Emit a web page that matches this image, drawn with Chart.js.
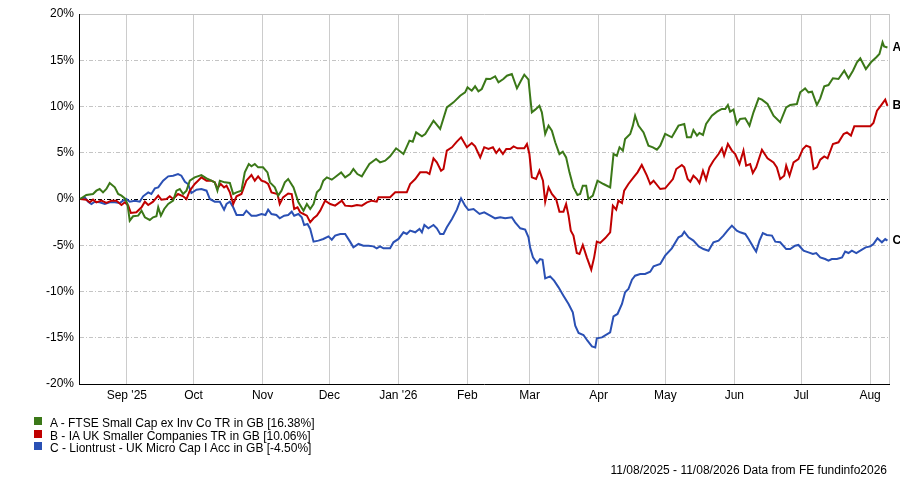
<!DOCTYPE html>
<html>
<head>
<meta charset="utf-8">
<script src="https://cdn.jsdelivr.net/npm/chart.js@4.4.1/dist/chart.umd.min.js"></script>
<style>
html,body{margin:0;padding:0;background:#fff;}
#wrap{position:relative;width:900px;height:484px;font-family:'Liberation Sans',Arial,sans-serif;font-size:12px;color:#000;overflow:hidden;}
#c{position:absolute;left:0;top:0;}
.sq{position:absolute;left:34px;width:8px;height:8px;}
.lt{position:absolute;left:50px;height:14px;line-height:14px;white-space:nowrap;}
#foot{position:absolute;right:13px;top:463px;height:14px;line-height:14px;white-space:nowrap;}
</style>
</head>
<body>
<div id="wrap">
<canvas id="c" width="900" height="484"></canvas>
<div class="sq" style="top:417px;background:#3b7818"></div>
<div class="lt" id="l0" style="top:416px"></div>
<div class="sq" style="top:429.5px;background:#c00000"></div>
<div class="lt" id="l1" style="top:428.5px"></div>
<div class="sq" style="top:442px;background:#2a50b4"></div>
<div class="lt" id="l2" style="top:441px"></div>
<div id="foot">11/08/2025 - 11/08/2026 Data from FE fundinfo2026</div>
</div>
<script>
// x values are days since 11/08/2025, y values are % total return
const seriesNames = [
  "A - FTSE Small Cap ex Inv Co TR in GB [16.38%]",
  "B - IA UK Smaller Companies TR in GB [10.06%]",
  "C - Liontrust - UK Micro Cap I Acc in GB [-4.50%]"
];
const seriesLetters = ["A", "B", "C"];
const seriesColors = ["#3b7818", "#c00000", "#2a50b4"];

const monthDays = [21, 51, 82, 112, 143, 174, 202, 233, 263, 294, 324, 355];
const monthLabels = ["Sep '25", "Oct", "Nov", "Dec", "Jan '26", "Feb", "Mar", "Apr", "May", "Jun", "Jul", "Aug"];
const yTickValues = [-20, -15, -10, -5, 0, 5, 10, 15, 20];
const yTickLabels = ["-20%", "-15%", "-10%", "-5%", "0%", "5%", "10%", "15%", "20%"];

const seriesA = [[0,0],[2.8,0.43],[5.8,0.54],[7.3,0.9],[8.8,1.08],[10.3,0.72],[11.8,1.08],[13.3,1.73],[15.6,1.26],[17.1,0.54],[18.6,0.36],[20.1,0.07],[21.3,-0.54],[22.3,-2.34],[23.8,-1.87],[26.1,-1.8],[27.6,-1.26],[29.1,-1.98],[31.3,-2.27],[32.8,-1.98],[34.3,-1.87],[35.1,-0.9],[36.3,-1.8],[37.8,-1.08],[39.6,-0.54],[41.8,-0.18],[43.3,0.9],[44.8,1.08],[46.3,0.54],[47.8,0.9],[49.3,1.98],[51.5,2.34],[54.5,2.59],[56.8,2.23],[59,1.98],[60.5,1.8],[61.7,0.9],[62.8,1.98],[65,1.8],[67.3,1.73],[68.8,0.54],[70.3,0.72],[72.5,0.9],[74,2.88],[75.8,3.78],[77,3.53],[78.5,3.78],[80,3.42],[82.2,3.42],[84.2,2.88],[85.3,1.8],[87.5,1.26],[89,0.36],[90.5,0.9],[92,1.8],[93.5,2.16],[95.9,1.26],[98.1,-0.36],[100.4,-1.26],[101.9,-0.54],[103.4,-1.08],[104.9,-0.54],[106.4,0.72],[107.9,1.08],[109.3,1.98],[110.9,2.34],[113.1,2.09],[115.4,2.52],[117.3,2.88],[119.1,2.34],[121.3,2.7],[122.8,3.24],[124.6,2.7],[126.6,2.45],[128.1,3.06],[130,3.78],[133,4.32],[134.8,3.96],[137.1,4.14],[139.3,4.61],[142,5.48],[145.3,4.86],[148,6.31],[149.5,6.2],[151,7.2],[153.6,6.77],[155.1,7.03],[158.8,8.47],[161.8,7.57],[164.8,9.91],[167.8,10.45],[170.8,11.17],[173,11.53],[174.1,12.07],[176,11.71],[177.5,12.18],[179,11.64],[180.5,11.89],[182.5,13.0],[184.3,12.97],[186.5,13.26],[188,12.61],[190.2,12.97],[191.8,13.33],[194,13.51],[196.3,11.96],[198.1,12.79],[199.6,13.44],[201.5,12.9],[202.2,11.17],[203,9.37],[204.5,9.66],[206.4,10.09],[207.5,9.37],[209,7.03],[210.5,7.93],[212,7.39],[213.5,6.13],[215.4,4.86],[216.9,5.12],[218.4,4.5],[219.9,2.88],[221.7,1.26],[223.5,0.43],[224.7,0.54],[225.9,1.44],[227.4,1.44],[228.4,0],[230.4,0.36],[232.5,1.98],[235.2,1.62],[238.2,1.26],[239.7,4.86],[241.2,4.68],[242.4,5.59],[243.9,5.23],[244.9,6.49],[247.2,7.03],[248.4,7.93],[249.4,9.01],[250.9,7.93],[253.2,7.2],[255.4,5.77],[257.4,5.59],[259.2,5.33],[260.7,5.77],[262.9,7.03],[265.9,6.67],[268.9,7.93],[271.5,8.11],[272.7,6.67],[274.5,6.67],[275.6,7.46],[277.2,6.85],[278.3,7.14],[279.9,6.92],[281.3,8.11],[283.9,9.01],[286.2,9.44],[288.4,9.73],[289.9,9.73],[291.1,10.16],[292.1,9.44],[293.6,9.66],[295.1,8.11],[296.6,8.65],[298.9,8.72],[300.8,7.93],[302.6,9.37],[304.9,10.88],[306.4,10.74],[308.9,10.27],[311.6,9.01],[314.6,8.29],[317.3,9.91],[319.1,10.16],[322.1,10.27],[323.6,11.53],[325.8,11.96],[327.3,11.53],[328.9,11.6],[331.1,10.16],[332.6,10.88],[334.4,12.18],[336.3,12.32],[338.3,13.05],[340.8,12.97],[343.4,13.87],[345.3,13.05],[347.3,13.87],[349.1,14.78],[350.6,15.21],[353.1,14.05],[355.4,14.78],[357.8,15.32],[359.2,15.68],[360.6,16.94],[361.3,16.5],[362.8,16.38]];

const seriesB = [[0,0],[2.8,-0.07],[4.3,-0.36],[5.8,-0.07],[7.3,-0.36],[9.6,-0.18],[11.8,-0.43],[14.1,-0.18],[16.3,-0.18],[18.6,-0.65],[20.1,-0.36],[21.6,-0.72],[22.8,-1.51],[25.3,-1.44],[27.6,-0.9],[29.1,-0.29],[30.6,-0.65],[32.8,-0.29],[35.1,0.36],[36.5,-0.07],[38.8,0],[40.3,0.29],[41.8,0],[44,0.54],[46.3,0.29],[47.8,0],[49.3,0.9],[51.5,1.62],[53,1.98],[54.5,2.34],[56.8,1.98],[59,1.98],[60.5,1.8],[61.7,1.15],[63.2,1.62],[64.7,1.26],[65.8,1.44],[67.3,0.72],[68.8,-0.54],[70.3,0.29],[72.5,0.54],[74.7,1.98],[77,2.59],[78.5,1.98],[80,2.45],[81.5,1.98],[83,1.87],[84.5,1.62],[86,0.72],[88.7,0.54],[89.7,-0.54],[91.2,0.18],[93.5,0.6],[95.1,0.54],[96.2,-1.08],[97.7,-0.9],[98.9,-1.44],[100.4,-1.62],[101.9,-1.8],[103.4,-2.52],[104.9,-2.09],[106.4,-1.8],[107.9,-1.26],[110.1,-0.18],[112.4,-0.54],[114.6,-0.72],[117.6,-0.18],[119.1,-0.72],[122.1,-0.79],[124.4,-0.65],[126.6,-0.72],[128.9,-0.36],[131.1,-0.18],[133.3,-0.29],[134.1,0.18],[136.3,0.18],[139.3,0.18],[141.6,0.72],[146.8,0.72],[148.3,1.62],[150.6,2.16],[152.8,2.88],[155.8,2.88],[157,2.7],[158.8,4.4],[160.3,3.96],[162.2,3.06],[163.3,3.24],[164.8,5.23],[167.1,5.59],[169.3,6.2],[171.2,6.67],[173.8,5.59],[176,6.05],[177.5,5.69],[179.8,4.5],[181.6,5.6],[183.5,5.41],[185.5,5.59],[187,4.97],[188.4,5.41],[190,4.86],[191.5,5.41],[193.3,5.41],[194.8,5.69],[196.5,5.48],[199.6,5.48],[200.8,5.95],[201.9,4.86],[203,2.34],[204.9,2.16],[206.4,3.06],[208,1.98],[209,-0.29],[210.5,1.26],[212,0.54],[213.9,0],[215.4,-1.37],[217.2,-1.37],[218.4,-0.54],[219.5,-1.8],[220.5,-3.42],[221.7,-3.96],[223.2,-5.84],[224.4,-5.95],[225.9,-4.97],[227.7,-6.31],[229.7,-7.64],[231,-6.31],[232.2,-4.61],[233.7,-4.75],[236,-4.22],[238.2,-3.6],[239.4,-0.72],[240.9,-1.15],[241.9,-0.18],[243.5,-0.43],[244.5,0.9],[246.4,1.62],[248.7,2.34],[250.5,2.88],[252.4,3.68],[254.7,2.52],[256.2,1.62],[257.7,1.98],[260.7,1.08],[262.9,1.15],[266.4,2.16],[267.9,3.24],[270.4,3.68],[271.5,3.42],[273,2.16],[274.2,1.87],[275.6,2.52],[277.2,2.16],[278.3,1.73],[279.9,3.06],[281.3,2.09],[282.8,3.42],[284.6,4.14],[286.9,4.86],[288.4,5.48],[289.4,4.68],[291.1,5.95],[292.9,5.23],[294.4,4.86],[296.3,3.78],[298.1,5.23],[299.3,3.6],[301.1,3.78],[302.3,2.81],[303.8,3.42],[306.4,5.33],[308.9,4.4],[311.6,3.96],[313.1,3.42],[314.6,2.16],[316.4,2.52],[317.3,3.6],[318.8,2.52],[320.6,3.96],[322.8,4.32],[324.8,5.41],[326.3,5.77],[328.1,5.59],[329.6,3.24],[331.1,3.42],[332.6,4.25],[334.4,4.61],[335.9,4.4],[338.3,5.95],[340.8,6.13],[343.1,7.03],[344.6,7.2],[346.4,6.85],[347.9,7.86],[350.6,7.86],[355.1,7.86],[356.5,8.22],[358.1,9.55],[359.6,10.02],[361.8,10.74],[362.8,10.06]];

const seriesC = [[0,0],[2.1,0.18],[3.6,-0.29],[5.1,-0.54],[6.6,-0.29],[8.8,-0.36],[11.1,-0.54],[13.3,-0.36],[15.6,-0.36],[17.8,-0.43],[19.3,-0.18],[20.8,0],[22.3,-0.29],[24.6,-0.18],[26.8,-0.29],[28.3,0.29],[30.6,0.72],[32,0.54],[33.6,1.15],[35.1,1.26],[37.3,1.98],[39.6,2.45],[41.8,2.52],[44,2.7],[45.5,2.52],[47.1,1.87],[48.5,1.62],[50,0.65],[52.3,1.01],[54.5,1.08],[56.8,0.9],[58.3,0],[60.5,-0.29],[62.8,-0.29],[64.7,-1.15],[65.8,-0.54],[67.3,-0.29],[68.8,-0.9],[70.3,-1.73],[73.3,-1.73],[74.7,-1.26],[77,-1.8],[79.2,-1.8],[81.5,-1.62],[83.3,-1.73],[84.5,-1.15],[86,-1.62],[88.2,-1.73],[89.7,-2.09],[91.7,-1.8],[93.5,-1.73],[95.1,-1.37],[96.2,-1.8],[98.1,-1.62],[99.6,-1.98],[100.7,-2.81],[102.2,-2.7],[103.4,-3.24],[104.9,-4.61],[107.1,-4.5],[109.3,-4.32],[111.6,-4.04],[113.1,-4.4],[114.6,-3.96],[116.9,-3.78],[119.1,-3.78],[121.3,-4.61],[122.8,-5.23],[125.1,-4.86],[127.3,-5.05],[129.6,-5.05],[131.8,-5.12],[133.3,-5.33],[134.8,-5.12],[136.3,-5.33],[139.3,-5.33],[140.8,-4.68],[143.1,-4.32],[145.3,-3.6],[146.8,-3.78],[148.3,-3.42],[150.6,-3.6],[152.5,-3.24],[153.6,-3.6],[154.7,-2.81],[156.5,-3.17],[158.8,-2.81],[160.3,-3.17],[161.8,-3.78],[163.3,-3.78],[164.8,-3.06],[167.1,-2.16],[169.3,-1.15],[171.2,0.07],[173,-0.72],[174.5,-1.19],[176.8,-1.08],[179.5,-1.62],[181.6,-1.44],[184.3,-1.8],[186.5,-2.09],[188.8,-1.98],[191,-2.09],[194,-1.98],[195.5,-2.52],[197.8,-3.17],[200,-3.31],[201.5,-4.14],[202.2,-5.23],[203.5,-6.31],[205.3,-6.92],[206.7,-6.49],[207.8,-6.56],[209,-8.58],[211.2,-8.36],[213,-8.83],[215,-9.55],[217.2,-10.45],[219.5,-11.35],[221.4,-12.25],[222.5,-13.69],[224,-14.49],[226.2,-14.7],[228,-15.32],[230,-15.93],[231.5,-16.04],[232.2,-15.06],[234.5,-14.96],[238.2,-14.41],[239.7,-12.68],[241.5,-12.43],[243.5,-11.35],[244.9,-10.09],[246.4,-9.73],[248,-8.72],[249.4,-8.29],[251.7,-8.11],[253.9,-8.11],[256.2,-7.86],[257.7,-7.28],[260.7,-7.03],[262.9,-6.13],[265.9,-5.33],[268.9,-4.14],[270.4,-3.96],[271.5,-3.53],[273.4,-4.14],[275.6,-4.5],[278,-5.12],[280.1,-5.41],[282.4,-5.59],[284.6,-4.68],[286.9,-4.5],[289.1,-3.96],[290.9,-3.42],[292.9,-2.88],[295.1,-3.42],[296.6,-3.6],[298.9,-3.78],[300.4,-4.32],[302.6,-5.23],[303.8,-5.69],[305.3,-4.5],[306.8,-3.68],[308.6,-3.89],[310.9,-3.96],[312.4,-4.61],[314.6,-4.68],[317.3,-5.41],[319.1,-5.41],[321.3,-5.05],[322.8,-4.97],[325.1,-5.59],[327.3,-5.77],[329.3,-5.95],[330.8,-5.84],[332.6,-6.31],[334.8,-6.49],[336.3,-6.67],[337.8,-6.49],[340.1,-6.49],[342.4,-6.31],[343.8,-5.69],[345.3,-5.84],[346.8,-5.59],[348.8,-5.84],[350.6,-5.59],[353,-5.23],[355.1,-5.12],[356.5,-4.86],[358.3,-4.25],[360.3,-4.68],[361.8,-4.32],[362.8,-4.5]];

const allSeries = [seriesA, seriesB, seriesC];

seriesNames.forEach((n, i) => { document.getElementById('l' + i).textContent = n; });

Chart.defaults.font.family = "'Liberation Sans', Arial, sans-serif";
Chart.defaults.font.size = 12;
Chart.defaults.color = '#000';

const edgePlugin = {
  id: 'edge',
  beforeDatasetsDraw(chart) {
    const {ctx, chartArea: a} = chart;
    ctx.save();
    ctx.strokeStyle = '#c8c8c8';
    ctx.lineWidth = 1;
    ctx.beginPath();
    ctx.moveTo(Math.round(a.right) + 0.5, a.top);
    ctx.lineTo(Math.round(a.right) + 0.5, a.bottom);
    ctx.stroke();
    ctx.restore();
  },
  afterDatasetsDraw(chart) {
    const ctx = chart.ctx;
    ctx.save();
    ctx.font = "bold 12px 'Liberation Sans', Arial, sans-serif";
    ctx.fillStyle = '#000';
    ctx.textBaseline = 'middle';
    ctx.textAlign = 'left';
    chart.data.datasets.forEach((ds, i) => {
      const meta = chart.getDatasetMeta(i);
      const pt = meta.data[meta.data.length - 1];
      ctx.fillText(seriesLetters[i], pt.x + 5, pt.y);
    });
    ctx.restore();
  }
};

new Chart(document.getElementById('c'), {
  type: 'line',
  data: {
    datasets: allSeries.map((s, i) => ({
      label: seriesNames[i],
      data: s.map(p => ({x: p[0], y: p[1]})),
      borderColor: seriesColors[i],
      backgroundColor: seriesColors[i],
      borderWidth: 2,
      pointRadius: 0,
      tension: 0,
      fill: false
    }))
  },
  options: {
    responsive: false,
    animation: false,
    layout: {padding: {left: 0, right: 11, top: 14, bottom: 80}},
    plugins: {legend: {display: false}, tooltip: {enabled: false}},
    scales: {
      x: {
        type: 'linear',
        min: -0.5,
        max: 363.5,
        afterBuildTicks: (scale) => { scale.ticks = monthDays.map(v => ({value: v})); },
        afterFit: (scale) => { scale.height = 20; },
        ticks: {
          autoSkip: false,
          maxRotation: 0,
          padding: 4,
          color: '#000',
          callback: (v, i) => monthLabels[i]
        },
        grid: {color: '#cccccc', lineWidth: 1, drawTicks: false},
        border: {display: true, color: '#000', width: 1}
      },
      y: {
        type: 'linear',
        min: -20,
        max: 20,
        afterBuildTicks: (scale) => { scale.ticks = yTickValues.map(v => ({value: v})); },
        afterFit: (scale) => { scale.width = 79; },
        ticks: {
          padding: 5,
          color: '#000',
          callback: (v, i) => yTickLabels[i]
        },
        grid: {
          drawTicks: false,
          lineWidth: 1,
          color: (c) => (c.tick && c.tick.value === 0) ? '#000' : '#c4c4c4'
        },
        border: {
          display: true,
          color: '#000',
          width: 1,
          dash: (c) => (c.tick && c.tick.value === 20) ? [] : [4, 2, 1, 2]
        }
      }
    }
  },
  plugins: [edgePlugin]
});
</script>
</body>
</html>
